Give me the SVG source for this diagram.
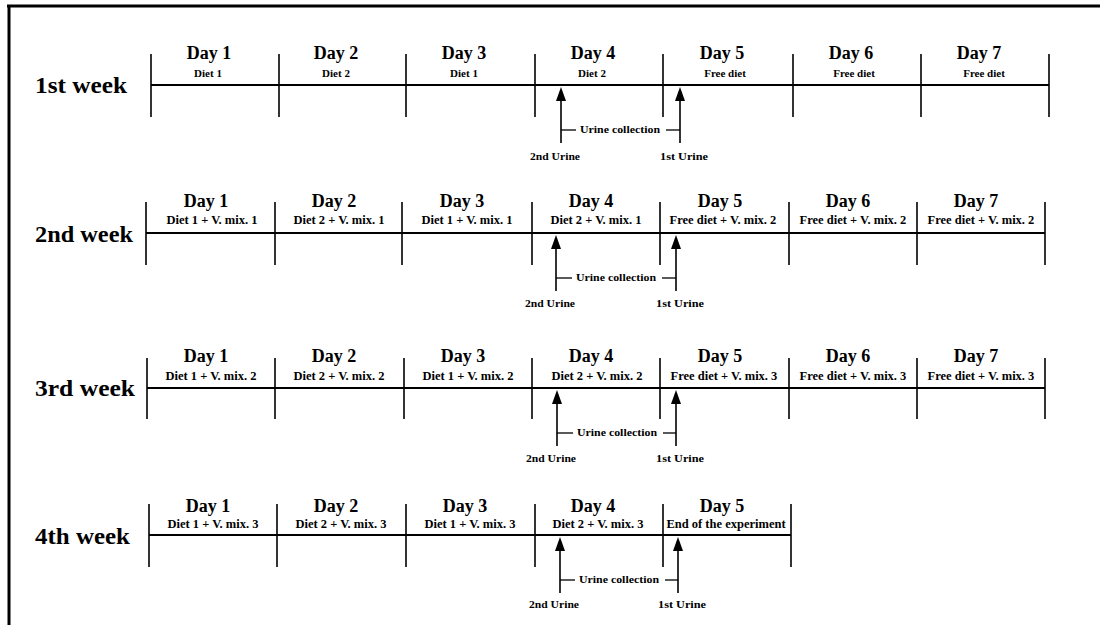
<svg xmlns="http://www.w3.org/2000/svg" width="1100" height="625" viewBox="0 0 1100 625">
<style>
.bg{fill:#fff}
.fr{stroke:#000;stroke-width:3;fill:none}
.tl{stroke:#000;stroke-width:1.8;fill:none}
.tk{stroke:#000;stroke-width:1.6}
.sh{stroke:#000;stroke-width:1.6;fill:none}
.br{stroke:#000;stroke-width:1.3}
text{font-family:"Liberation Serif","Times New Roman",serif;font-weight:bold;fill:#000}
.wk{font-size:24px}
.day{font-size:18px;text-anchor:middle}
.d1{font-size:11px;text-anchor:middle}
.d2{font-size:12.5px;text-anchor:middle}
.ur{font-size:10.5px;text-anchor:middle}
</style>
<defs>
<marker id="ah" markerUnits="userSpaceOnUse" markerWidth="14" markerHeight="10" refX="6" refY="5" orient="auto">
<path d="M0,0 L14,5 L0,10 z" fill="#000"/>
</marker>
</defs>
<rect class="bg" x="0" y="0" width="1100" height="625"/>
<g id="frame">
<line class="fr" x1="7" y1="6" x2="1100" y2="6"/>
<line class="fr" x1="9" y1="5" x2="9" y2="625"/>
</g>

<!-- Week 1 -->
<g id="week1">
<text class="wk" x="35" y="93" textLength="92" lengthAdjust="spacingAndGlyphs">1st week</text>
<line class="tl" x1="151" y1="85" x2="1049" y2="85"/>
<g class="ticks">
<line class="tk" x1="151" y1="54" x2="151" y2="117"/>
<line class="tk" x1="279" y1="54" x2="279" y2="117"/>
<line class="tk" x1="406" y1="54" x2="406" y2="117"/>
<line class="tk" x1="535" y1="54" x2="535" y2="117"/>
<line class="tk" x1="663" y1="54" x2="663" y2="117"/>
<line class="tk" x1="793" y1="54" x2="793" y2="117"/>
<line class="tk" x1="921" y1="54" x2="921" y2="117"/>
<line class="tk" x1="1049" y1="54" x2="1049" y2="117"/>
</g>
<g id="w1d1"><text class="day" x="209" y="59">Day 1</text><text class="d1" x="208" y="77">Diet 1</text></g>
<g id="w1d2"><text class="day" x="336" y="59">Day 2</text><text class="d1" x="336" y="77">Diet 2</text></g>
<g id="w1d3"><text class="day" x="464" y="59">Day 3</text><text class="d1" x="464" y="77">Diet 1</text></g>
<g id="w1d4"><text class="day" x="593" y="59">Day 4</text><text class="d1" x="592" y="77">Diet 2</text></g>
<g id="w1d5"><text class="day" x="722" y="59">Day 5</text><text class="d1" x="725" y="77">Free diet</text></g>
<g id="w1d6"><text class="day" x="851" y="59">Day 6</text><text class="d1" x="854" y="77">Free diet</text></g>
<g id="w1d7"><text class="day" x="979" y="59">Day 7</text><text class="d1" x="984" y="77">Free diet</text></g>
<g id="w1urine">
<text class="ur" x="620" y="133" textLength="80" lengthAdjust="spacingAndGlyphs">Urine collection</text>
<text class="ur" x="555" y="160" textLength="50" lengthAdjust="spacingAndGlyphs">2nd Urine</text>
<text class="ur" x="684" y="160" textLength="48" lengthAdjust="spacingAndGlyphs">1st Urine</text>
</g>
</g>

<!-- Week 2 -->
<g id="week2">
<text class="wk" x="35" y="242" textLength="98" lengthAdjust="spacingAndGlyphs">2nd week</text>
<line class="tl" x1="146" y1="233" x2="1045" y2="233"/>
<g class="ticks">
<line class="tk" x1="146" y1="202" x2="146" y2="265"/>
<line class="tk" x1="275" y1="202" x2="275" y2="265"/>
<line class="tk" x1="402" y1="202" x2="402" y2="265"/>
<line class="tk" x1="532" y1="202" x2="532" y2="265"/>
<line class="tk" x1="660" y1="202" x2="660" y2="265"/>
<line class="tk" x1="789" y1="202" x2="789" y2="265"/>
<line class="tk" x1="917" y1="202" x2="917" y2="265"/>
<line class="tk" x1="1045" y1="202" x2="1045" y2="265"/>
</g>
<g id="w2d1"><text class="day" x="206" y="207">Day 1</text><text class="d2" x="212" y="224">Diet 1 + V. mix. 1</text></g>
<g id="w2d2"><text class="day" x="334" y="207">Day 2</text><text class="d2" x="339" y="224">Diet 2 + V. mix. 1</text></g>
<g id="w2d3"><text class="day" x="462" y="207">Day 3</text><text class="d2" x="467" y="224">Diet 1 + V. mix. 1</text></g>
<g id="w2d4"><text class="day" x="591" y="207">Day 4</text><text class="d2" x="596" y="224">Diet 2 + V. mix. 1</text></g>
<g id="w2d5"><text class="day" x="720" y="207">Day 5</text><text class="d2" x="723" y="224">Free diet + V. mix. 2</text></g>
<g id="w2d6"><text class="day" x="848" y="207">Day 6</text><text class="d2" x="853" y="224">Free diet + V. mix. 2</text></g>
<g id="w2d7"><text class="day" x="976" y="207">Day 7</text><text class="d2" x="981" y="224">Free diet + V. mix. 2</text></g>
<g id="w2urine">
<text class="ur" x="616" y="281" textLength="80" lengthAdjust="spacingAndGlyphs">Urine collection</text>
<text class="ur" x="550" y="307" textLength="50" lengthAdjust="spacingAndGlyphs">2nd Urine</text>
<text class="ur" x="680" y="307" textLength="48" lengthAdjust="spacingAndGlyphs">1st Urine</text>
</g>
</g>

<!-- Week 3 -->
<g id="week3">
<text class="wk" x="35" y="396" textLength="100" lengthAdjust="spacingAndGlyphs">3rd week</text>
<line class="tl" x1="147" y1="388" x2="1045" y2="388"/>
<g class="ticks">
<line class="tk" x1="147" y1="358" x2="147" y2="419"/>
<line class="tk" x1="275" y1="358" x2="275" y2="419"/>
<line class="tk" x1="404" y1="358" x2="404" y2="419"/>
<line class="tk" x1="532" y1="358" x2="532" y2="419"/>
<line class="tk" x1="660" y1="358" x2="660" y2="419"/>
<line class="tk" x1="789" y1="358" x2="789" y2="419"/>
<line class="tk" x1="917" y1="358" x2="917" y2="419"/>
<line class="tk" x1="1045" y1="358" x2="1045" y2="419"/>
</g>
<g id="w3d1"><text class="day" x="206" y="362">Day 1</text><text class="d2" x="211" y="380">Diet 1 + V. mix. 2</text></g>
<g id="w3d2"><text class="day" x="334" y="362">Day 2</text><text class="d2" x="339" y="380">Diet 2 + V. mix. 2</text></g>
<g id="w3d3"><text class="day" x="463" y="362">Day 3</text><text class="d2" x="468" y="380">Diet 1 + V. mix. 2</text></g>
<g id="w3d4"><text class="day" x="591" y="362">Day 4</text><text class="d2" x="597" y="380">Diet 2 + V. mix. 2</text></g>
<g id="w3d5"><text class="day" x="720" y="362">Day 5</text><text class="d2" x="724" y="380">Free diet + V. mix. 3</text></g>
<g id="w3d6"><text class="day" x="848" y="362">Day 6</text><text class="d2" x="853" y="380">Free diet + V. mix. 3</text></g>
<g id="w3d7"><text class="day" x="976" y="362">Day 7</text><text class="d2" x="981" y="380">Free diet + V. mix. 3</text></g>
<g id="w3urine">
<text class="ur" x="617" y="436" textLength="80" lengthAdjust="spacingAndGlyphs">Urine collection</text>
<text class="ur" x="551" y="462" textLength="50" lengthAdjust="spacingAndGlyphs">2nd Urine</text>
<text class="ur" x="680" y="462" textLength="48" lengthAdjust="spacingAndGlyphs">1st Urine</text>
</g>
</g>

<!-- Week 4 -->
<g id="week4">
<text class="wk" x="35" y="544" textLength="95" lengthAdjust="spacingAndGlyphs">4th week</text>
<line class="tl" x1="149" y1="535" x2="791" y2="535"/>
<g class="ticks">
<line class="tk" x1="149" y1="504" x2="149" y2="567"/>
<line class="tk" x1="277" y1="504" x2="277" y2="567"/>
<line class="tk" x1="406" y1="504" x2="406" y2="567"/>
<line class="tk" x1="535" y1="504" x2="535" y2="567"/>
<line class="tk" x1="663" y1="504" x2="663" y2="567"/>
<line class="tk" x1="791" y1="504" x2="791" y2="567"/>
</g>
<g id="w4d1"><text class="day" x="208" y="512">Day 1</text><text class="d2" x="213" y="528">Diet 1 + V. mix. 3</text></g>
<g id="w4d2"><text class="day" x="336" y="512">Day 2</text><text class="d2" x="341" y="528">Diet 2 + V. mix. 3</text></g>
<g id="w4d3"><text class="day" x="465" y="512">Day 3</text><text class="d2" x="470" y="528">Diet 1 + V. mix. 3</text></g>
<g id="w4d4"><text class="day" x="593" y="512">Day 4</text><text class="d2" x="598" y="528">Diet 2 + V. mix. 3</text></g>
<g id="w4d5"><text class="day" x="722" y="512">Day 5</text><text class="d2" x="726" y="528">End of the experiment</text></g>
<g id="w4urine">
<text class="ur" x="619" y="583" textLength="80" lengthAdjust="spacingAndGlyphs">Urine collection</text>
<text class="ur" x="554" y="608" textLength="50" lengthAdjust="spacingAndGlyphs">2nd Urine</text>
<text class="ur" x="682" y="608" textLength="48" lengthAdjust="spacingAndGlyphs">1st Urine</text>
</g>
</g>

<g id="connectors">
<!-- week 1 -->
<line class="sh" x1="561" y1="143" x2="561" y2="95" marker-end="url(#ah)"/>
<line class="sh" x1="680" y1="143" x2="680" y2="95" marker-end="url(#ah)"/>
<line class="br" x1="561" y1="130" x2="576" y2="130"/>
<line class="br" x1="666" y1="130" x2="680" y2="130"/>
<!-- week 2 -->
<line class="sh" x1="556" y1="291" x2="556" y2="243" marker-end="url(#ah)"/>
<line class="sh" x1="676" y1="291" x2="676" y2="243" marker-end="url(#ah)"/>
<line class="br" x1="556" y1="278" x2="572" y2="278"/>
<line class="br" x1="662" y1="278" x2="676" y2="278"/>
<!-- week 3 -->
<line class="sh" x1="557" y1="446" x2="557" y2="398" marker-end="url(#ah)"/>
<line class="sh" x1="676" y1="446" x2="676" y2="398" marker-end="url(#ah)"/>
<line class="br" x1="557" y1="433" x2="573" y2="433"/>
<line class="br" x1="663" y1="433" x2="676" y2="433"/>
<!-- week 4 -->
<line class="sh" x1="560" y1="593" x2="560" y2="545" marker-end="url(#ah)"/>
<line class="sh" x1="678" y1="593" x2="678" y2="545" marker-end="url(#ah)"/>
<line class="br" x1="560" y1="580" x2="575" y2="580"/>
<line class="br" x1="665" y1="580" x2="678" y2="580"/>
</g>
</svg>
